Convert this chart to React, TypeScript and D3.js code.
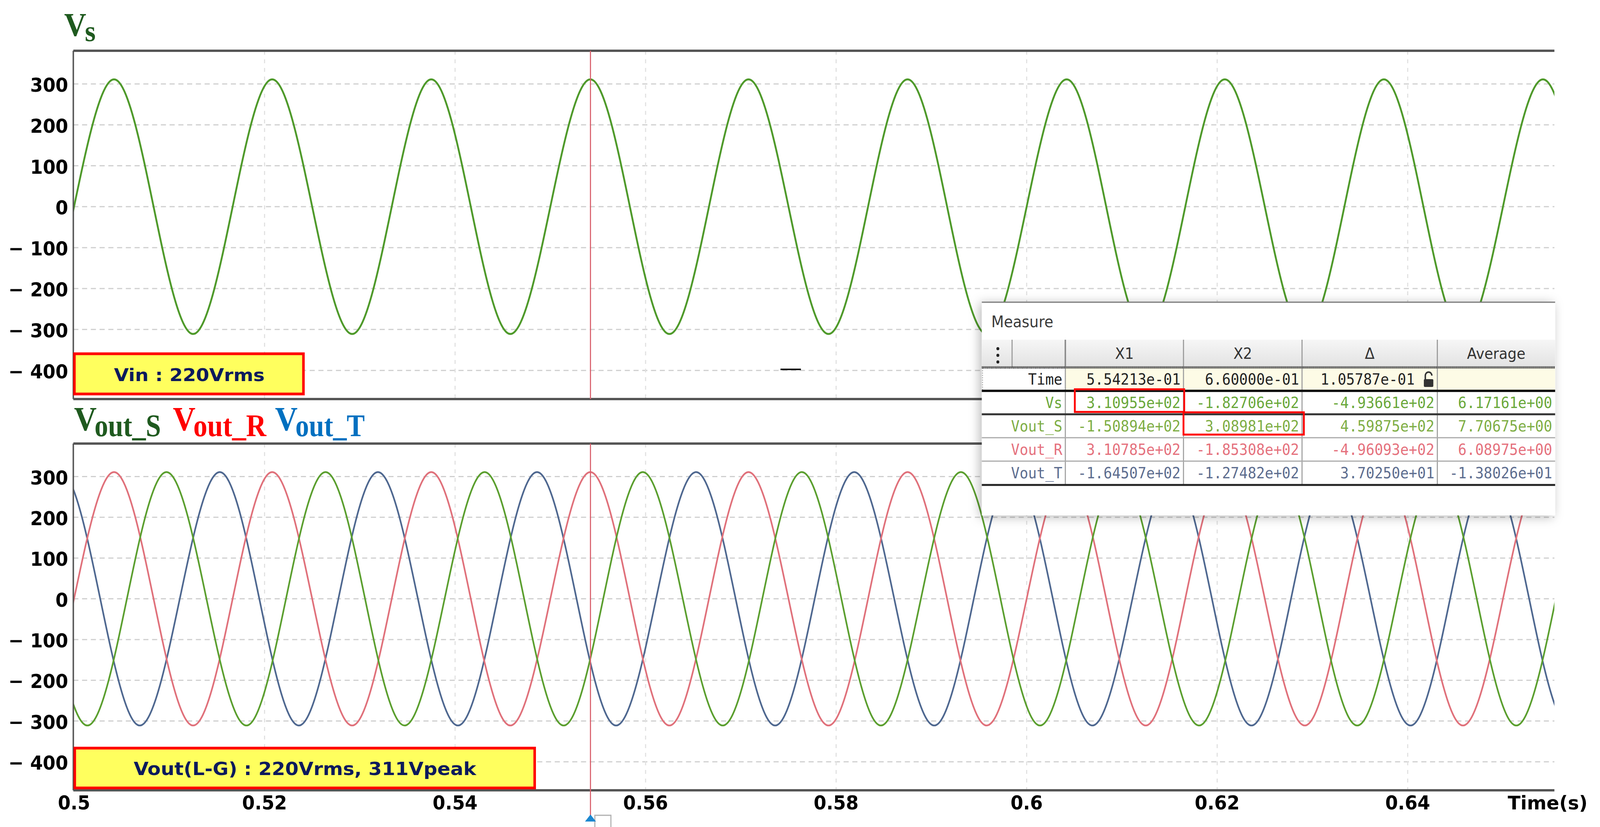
import React from 'react';
import * as d3 from 'd3';

const W = 4387;
const H = 2118;

// axis ticks
const xTicks = [0.5, 0.52, 0.54, 0.56, 0.58, 0.6, 0.62, 0.64];
const xTickLabels = ['0.5', '0.52', '0.54', '0.56', '0.58', '0.6', '0.62', '0.64'];
const yTicks = [300, 200, 100, 0, -100, -200, -300, -400];
const yTickLabels = ['300', '200', '100', '0', '\u2212 100', '\u2212 200', '\u2212 300', '\u2212 400'];

// waveform extrema: [time (s), volts]
// (one extra extremum on each side so the edge segments stay symmetric)
const vsPoints: [number, number][] = [
  [0.4875, 311],
  [0.4958, -311], [0.5042, 311], [0.5125, -311], [0.5208, 311], [0.5292, -311], [0.5375, 311],
  [0.5458, -311], [0.5542, 311], [0.5625, -311], [0.5708, 311], [0.5792, -311], [0.5875, 311],
  [0.5958, -311], [0.6042, 311], [0.6125, -311], [0.6208, 311], [0.6292, -311], [0.6375, 311],
  [0.6458, -311], [0.6542, 311], [0.6625, -311], [0.6708, 311],
];
const voutRPoints: [number, number][] = [
  [0.4875, 311],
  [0.4958, -311], [0.5042, 311], [0.5125, -311], [0.5208, 311], [0.5292, -311], [0.5375, 311],
  [0.5458, -311], [0.5542, 311], [0.5625, -311], [0.5708, 311], [0.5792, -311], [0.5875, 311],
  [0.5958, -311], [0.6042, 311], [0.6125, -311], [0.6208, 311], [0.6292, -311], [0.6375, 311],
  [0.6458, -311], [0.6542, 311], [0.6625, -311], [0.6708, 311],
];
const voutSPoints: [number, number][] = [
  [0.4847, -311],
  [0.4931, 311], [0.5014, -311], [0.5097, 311], [0.5181, -311], [0.5264, 311], [0.5347, -311],
  [0.5431, 311], [0.5514, -311], [0.5597, 311], [0.5681, -311], [0.5764, 311], [0.5847, -311],
  [0.5931, 311], [0.6014, -311], [0.6097, 311], [0.6181, -311], [0.6264, 311], [0.6347, -311],
  [0.6431, 311], [0.6514, -311], [0.6597, 311], [0.6681, -311],
];
const voutTPoints: [number, number][] = [
  [0.4819, 311],
  [0.4903, -311], [0.4986, 311], [0.5069, -311], [0.5153, 311], [0.5236, -311], [0.5319, 311],
  [0.5403, -311], [0.5486, 311], [0.5569, -311], [0.5653, 311], [0.5736, -311], [0.5819, 311],
  [0.5903, -311], [0.5986, 311], [0.6069, -311], [0.6153, 311], [0.6236, -311], [0.6319, 311],
  [0.6403, -311], [0.6486, 311], [0.6569, -311], [0.6653, 311], [0.6736, -311],
];

const cursorTime = 0.554213;

// measure table
const measureRows = ['Time', 'Vs', 'Vout_S', 'Vout_R', 'Vout_T'];
const measureHeaders = ['X1', 'X2', '\u0394', 'Average'];
const x1Vals = ['5.54213e-01', '3.10955e+02', '-1.50894e+02', '3.10785e+02', '-1.64507e+02'];
const x2Vals = ['6.60000e-01', '-1.82706e+02', '3.08981e+02', '-1.85308e+02', '-1.27482e+02'];
const deltaVals = ['1.05787e-01', '-4.93661e+02', '4.59875e+02', '-4.96093e+02', '3.70250e+01'];
const avgVals = ['', '6.17161e+00', '7.70675e+00', '6.08975e+00', '-1.38026e+01'];
const rowColors = ['#222222', '#6aa83a', '#7fae45', '#e5717d', '#5d6d8f'];

const C = {
  vs: '#4f9a2b',
  s: '#5b9f2f',
  r: '#e0717b',
  t: '#4f6890',
  frame: '#555555',
  grid: '#cfcfcf',
  cursor: '#d9606c',
  navy: '#0c1a5c',
};

const tickFont = "'DejaVu Sans', sans-serif";
const monoFont = "'DejaVu Sans Mono', monospace";
const titleFont = "'Liberation Serif', serif";

function App() {
  const x = d3.scaleLinear().domain([0.5, 0.6554]).range([203, 4262]);
  const yTop = d3.scaleLinear().domain([-470, 381]).range([1022, 130]);
  const yBot = d3.scaleLinear().domain([-470, 381]).range([2024, 1136]);

  const lineTop = d3.line<[number, number]>()
    .x(d => x(d[0]))
    .y(d => yTop(d[1]))
    .curve(d3.curveMonotoneX);
  const lineBot = d3.line<[number, number]>()
    .x(d => x(d[0]))
    .y(d => yBot(d[1]))
    .curve(d3.curveMonotoneX);

  const left = x(0.5) - 2;
  const right = 4262;
  const cx = x(cursorTime);

  // table geometry
  const colEdges = [2692, 2775, 2921, 3245, 3570, 3941, 4264];
  const rowEdges = [941, 1001, 1061, 1121, 1181, 1242];
  const valueCols = [x1Vals, x2Vals, deltaVals, avgVals];

  const plotFrame = (yS: d3.ScaleLinear<number, number>, key: string) => {
    const [y0, y1] = yS.range();
    return (
      <g key={key}>
        {yTicks.map(v => (
          <line key={'h' + v} x1={left} x2={right} y1={yS(v)} y2={yS(v)}
            stroke={C.grid} strokeWidth={3} strokeDasharray="14,10" />
        ))}
        {xTicks.slice(1).map(t => (
          <line key={'v' + t} x1={x(t)} x2={x(t)} y1={y1} y2={y0}
            stroke="#e0e0e0" strokeWidth={3} strokeDasharray="10,12" />
        ))}
        {yTicks.map((v, i) => (
          <text key={'t' + v} x={187} y={yS(v) + 20} textAnchor="end"
            fontFamily={tickFont} fontWeight="bold" fontSize={50} fill="#000">
            {yTickLabels[i]}
          </text>
        ))}
      </g>
    );
  };

  const axisLines = (yS: d3.ScaleLinear<number, number>, key: string) => {
    const [y0, y1] = yS.range();
    return (
      <g key={key}>
        <line x1={left} x2={right} y1={y1} y2={y1} stroke={C.frame} strokeWidth={6} />
        <line x1={left} x2={right} y1={y0} y2={y0} stroke={C.frame} strokeWidth={6} />
        <line x1={left} x2={left} y1={y1} y2={y0} stroke={C.frame} strokeWidth={4} />
      </g>
    );
  };

  return (
    <svg viewBox={`0 0 ${W} ${H}`} preserveAspectRatio="none"
      style={{ position: 'fixed', left: 0, top: 0, width: '100vw', height: '100vh', display: 'block', background: '#fff' }}>
      <defs>
        <clipPath id="clipTop">
          <rect x={left} y={yTop.range()[1]} width={right - left} height={yTop.range()[0] - yTop.range()[1]} />
        </clipPath>
        <clipPath id="clipBot">
          <rect x={left} y={yBot.range()[1]} width={right - left} height={yBot.range()[0] - yBot.range()[1]} />
        </clipPath>
        <filter id="panelShadow" x="-10%" y="-20%" width="120%" height="140%">
          <feDropShadow dx={-6} dy={4} stdDeviation={14} floodColor="#000" floodOpacity={0.28} />
        </filter>
        <linearGradient id="hdrGrad" x1="0" x2="0" y1="0" y2="1">
          <stop offset="0%" stopColor="#f6f6f6" />
          <stop offset="100%" stopColor="#e2e2e2" />
        </linearGradient>
      </defs>

      <rect x={0} y={0} width={W} height={H} fill="#fff" />

      {/* titles */}
      <text x={176} y={92} fontFamily={titleFont} fontWeight="bold" fontSize={84} fill="#1f5a1f">
        V<tspan dx={-4} dy={13} fontSize={76}>s</tspan>
      </text>
      <text x={203} y={1102} fontFamily={titleFont} fontWeight="bold" fontSize={86} fill="#1f5a1f">
        V<tspan dx={-6} dy={15} fontSize={80} textLength={182} lengthAdjust="spacingAndGlyphs">out_S</tspan>
      </text>
      <text x={474} y={1102} fontFamily={titleFont} fontWeight="bold" fontSize={86} fill="#ff0000">
        V<tspan dx={-6} dy={15} fontSize={80} textLength={200} lengthAdjust="spacingAndGlyphs">out_R</tspan>
      </text>
      <text x={754} y={1102} fontFamily={titleFont} fontWeight="bold" fontSize={86} fill="#0070c0">
        V<tspan dx={-6} dy={15} fontSize={80} textLength={190} lengthAdjust="spacingAndGlyphs">out_T</tspan>
      </text>

      {/* grids and y labels */}
      {plotFrame(yTop, 'gTop')}
      {plotFrame(yBot, 'gBot')}

      {/* traces */}
      <g clipPath="url(#clipTop)">
        <path d={lineTop(vsPoints) || ''} fill="none" stroke={C.vs} strokeWidth={5} />
      </g>
      <g clipPath="url(#clipBot)">
        <path d={lineBot(voutTPoints) || ''} fill="none" stroke={C.t} strokeWidth={4.5} />
        <path d={lineBot(voutRPoints) || ''} fill="none" stroke={C.r} strokeWidth={4.5} />
        <path d={lineBot(voutSPoints) || ''} fill="none" stroke={C.s} strokeWidth={4.5} />
      </g>

      {axisLines(yTop, 'aTop')}
      {axisLines(yBot, 'aBot')}

      {/* stray marker */}
      <line x1={2140} x2={2196} y1={946} y2={946} stroke="#111" strokeWidth={4} />

      {/* cursor */}
      <line x1={cx} x2={cx} y1={yTop.range()[1]} y2={yTop.range()[0]} stroke={C.cursor} strokeWidth={3} />
      <line x1={cx} x2={cx} y1={yBot.range()[1]} y2={2090} stroke={C.cursor} strokeWidth={3} />
      <rect x={cx + 12} y={2088} width={44} height={34} fill="#fff" stroke="#b0b0b0" strokeWidth={3} />
      <path d={`M${cx - 15},2104 L${cx},2086 L${cx + 15},2104 Z`} fill="#1c88d0" />

      {/* annotation boxes */}
      <rect x={204} y={906} width={628} height={103} fill="#ffff5e" stroke="#ff0000" strokeWidth={7} />
      <text x={519} y={976} textAnchor="middle" fontFamily={tickFont} fontWeight="bold" fontSize={45}
        fill={C.navy} textLength={413} lengthAdjust="spacingAndGlyphs">Vin : 220Vrms</text>
      <rect x={205} y={1916} width={1261} height={102} fill="#ffff5e" stroke="#ff0000" strokeWidth={7} />
      <text x={836} y={1985} textAnchor="middle" fontFamily={tickFont} fontWeight="bold" fontSize={47}
        fill={C.navy} textLength={939} lengthAdjust="spacingAndGlyphs">Vout(L-G) : 220Vrms, 311Vpeak</text>

      {/* x axis labels */}
      {xTicks.map((t, i) => (
        <text key={'x' + t} x={x(t)} y={2073} textAnchor="middle" fontFamily={tickFont}
          fontWeight="bold" fontSize={50} fill="#000">{xTickLabels[i]}</text>
      ))}
      <text x={4134} y={2073} fontFamily={tickFont} fontWeight="bold" fontSize={48} fill="#000"
        textLength={219} lengthAdjust="spacingAndGlyphs">Time(s)</text>

      {/* measure panel */}
      <g>
        <rect x={2692} y={773} width={1572} height={547} fill="#fff" filter="url(#panelShadow)" />
        <line x1={2692} x2={4264} y1={774} y2={774} stroke="#7a7a7a" strokeWidth={3} />
        <text x={2718} y={838} fontFamily={tickFont} fontSize={40} fill="#3a3a3a">Measure</text>

        {/* header */}
        <rect x={2692} y={870} width={4264 - 2692} height={71} fill="url(#hdrGrad)" />
        {[0, 1, 2, 3, 4].map(i => (
          <line key={'hv' + i} x1={colEdges[i + 1]} x2={colEdges[i + 1]} y1={870} y2={941}
            stroke={i === 1 ? '#8a8a8a' : '#9a9a9a'} strokeWidth={i === 1 ? 4 : 3} />
        ))}
        {[893, 910, 927].map(cy => <circle key={'d' + cy} cx={2736} cy={cy} r={4} fill="#222" />)}
        {measureHeaders.map((h, i) => (
          <text key={'hd' + h} x={(colEdges[i + 2] + colEdges[i + 3]) / 2} y={919} textAnchor="middle"
            fontFamily={tickFont} fontSize={39} fill="#333">{h}</text>
        ))}

        {/* time row background */}
        <rect x={2921} y={941} width={4264 - 2921} height={60} fill="#fdfbe6" />
        <rect x={2694} y={943} width={2921 - 2694} height={56} fill="none" stroke="#999" strokeWidth={2} strokeDasharray="3,3" />

        {/* column lines */}
        {[2921, 3245, 3570, 3941].map(cx2 => (
          <line key={'cv' + cx2} x1={cx2} x2={cx2} y1={941} y2={1242} stroke="#a0a0a0" strokeWidth={3} />
        ))}
        {/* row lines */}
        <line x1={2692} x2={4264} y1={941} y2={941} stroke="#555" strokeWidth={6} strokeDasharray="3,1" />
        <line x1={2692} x2={4264} y1={1001} y2={1001} stroke="#111" strokeWidth={6} />
        <line x1={2692} x2={4264} y1={1061} y2={1061} stroke="#333" strokeWidth={5} />
        <line x1={2692} x2={4264} y1={1121} y2={1121} stroke="#aaaaaa" strokeWidth={3} />
        <line x1={2692} x2={4264} y1={1181} y2={1181} stroke="#aaaaaa" strokeWidth={3} />
        <line x1={2692} x2={4264} y1={1242} y2={1242} stroke="#222" strokeWidth={5} />

        {measureRows.map((r, ri) => {
          const base = rowEdges[ri] + 44;
          return (
            <g key={'row' + r}>
              <text x={2913} y={base} textAnchor="end" fontFamily={monoFont} fontSize={39}
                fill={rowColors[ri]}>{r}</text>
              {valueCols.map((col, ci) => (
                <text key={'c' + ci} x={colEdges[ci + 3] - (ci === 2 && ri === 0 ? 62 : 8)} y={base}
                  textAnchor="end" fontFamily={monoFont} fontSize={39} fill={rowColors[ri]}>{col[ri]}</text>
              ))}
            </g>
          );
        })}

        {/* lock icon */}
        <path d="M3908,972 L3908,962 A9,9 0 0 1 3926,962" fill="none" stroke="#333" strokeWidth={4} />
        <rect x={3904} y={971} width={26} height={20} rx={3} fill="#333" />

        {/* highlight boxes */}
        <rect x={2947} y={997} width={300} height={58} fill="none" stroke="#ff0000" strokeWidth={5} />
        <rect x={3245} y={1056} width={330} height={57} fill="none" stroke="#ff0000" strokeWidth={5} />
      </g>
    </svg>
  );
}

export default App;
